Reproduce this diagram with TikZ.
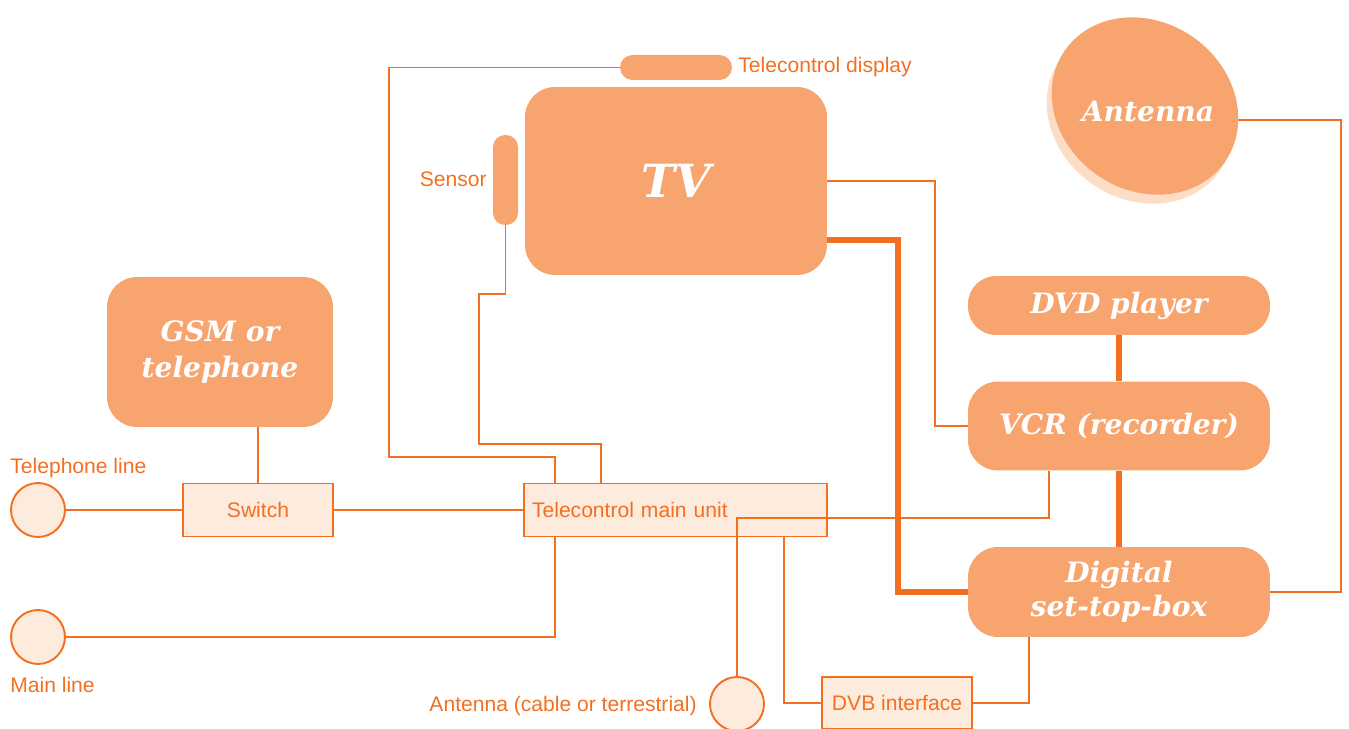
\documentclass[tikz,border=0pt]{standalone}
\usepackage{fontspec}
\setmainfont{Liberation Sans}
\newfontfamily\serifbi{DejaVu Serif}
\usepackage{tikz}
\usepackage{xcolor}
\usetikzlibrary{positioning, shapes}

\definecolor{wireorange}{RGB}{243,111,33}
\definecolor{boxsalmon}{RGB}{247,164,111}
\definecolor{boxpale}{RGB}{253,235,221}
\definecolor{antshadow}{RGB}{252,221,198}

\begin{document}
\begin{tikzpicture}[x=0.02cm, y=-0.02cm,
        wire/.style={draw=wireorange, line width=1.1pt},
        thickwire/.style={draw=wireorange, line width=3.4pt},
        device/.style={fill=boxsalmon, text=white, rounded corners=0.6cm, align=center, inner sep=0pt,
            font=\serifbi\bfseries\itshape\fontsize{16}{19.5}\selectfont},
        paleunit/.style={draw=wireorange, fill=boxpale, line width=1.1pt, text=wireorange, inner sep=0pt,
            minimum height=1.06cm, font=\fontsize{12}{14}\selectfont},
        plug/.style={circle, draw=wireorange, fill=boxpale, line width=1.1pt, minimum size=1.08cm, inner sep=0pt},
        tag/.style={text=wireorange, inner sep=0pt, font=\fontsize{12}{14}\selectfont}]
        \useasboundingbox (0,0) rectangle (1349,729);

        % TV with display and sensor
        \node[device, minimum width=6.04cm, minimum height=3.76cm, font=\serifbi\bfseries\itshape\fontsize{26}{30}\selectfont] (tv) at (676,181) {TV};
        \node[device, minimum width=2.24cm, minimum height=0.5cm, rounded corners=0.25cm] (disp) at (676,67.5) {};
        \node[tag, anchor=base west] (displabel) at (738,73) {Telecontrol display};
        \node[device, minimum width=0.5cm, minimum height=1.8cm, rounded corners=0.24cm] (sensor) at (505.5,180) {};
        \node[tag, anchor=base east] (sensorlabel) at (487,187) {Sensor};

        % telephone side
        \node[device, minimum width=4.52cm, minimum height=3cm, font=\serifbi\bfseries\itshape\fontsize{16}{20}\selectfont] (gsm) at (220,352) {GSM or\\telephone};
        \node[paleunit, minimum width=3cm] (switch) at (258,510) {Switch};
        \node[paleunit, text width=5.74cm, align=left, inner xsep=0.16cm] (tmu) at (675.5,510) {Telecontrol main unit};
        \node[paleunit, minimum width=3cm, minimum height=1.04cm] (dvb) at (897,703) {DVB interface};
        \node[plug] (telplug) at (38,510) {};
        \node[tag, anchor=base west] (tellabel) at (10,474) {Telephone line};
        \node[plug] (mainplug) at (38,637) {};
        \node[tag, anchor=base west] (mainlabel) at (10,692) {Main line};
        \node[plug] (antplug) at (737,704) {};
        \node[tag, anchor=base east] (antlabel) at (697,711) {Antenna (cable or terrestrial)};

        % recorder stack
        \node[device, minimum width=6.04cm, minimum height=1.18cm, rounded corners=0.56cm] (dvd) at (1119,305.5) {DVD player};
        \node[device, minimum width=6.04cm, minimum height=1.78cm] (vcr) at (1119,426) {VCR (recorder)};
        \node[device, minimum width=6.04cm, minimum height=1.8cm] (stb) at (1119,592) {Digital\\set-top-box};

        % wiring
        \draw[wire] (telplug) -- (switch);
        \draw[wire] (switch) -- (tmu);
        \draw[wire] (gsm.south -| switch) -- (switch);
        \draw[wire] (mainplug) -| ([xshift=0.64cm]tmu.south west);
        \draw[wire] (disp) -| (389,457) -| ([xshift=0.64cm]tmu.north west);
        \draw[wire] (sensor) |- (479,294) |- (602,444) -| ([xshift=1.56cm]tmu.north west);
        \draw[wire] ([xshift=-1.4cm]vcr.south) |- (737,518) -- (antplug);
        \draw[wire] ([xshift=5.22cm]tmu.south west) |- (dvb);
        \draw[wire] (dvb) -| ([xshift=-1.8cm]stb.south);
        \draw[wire] (tv.east) -| (935,426) -- (vcr);
        \draw[thickwire] ([yshift=-1.18cm]tv.east) -| (898,592) -- (stb);
        \draw[thickwire] (dvd) -- (vcr);
        \draw[thickwire] (vcr) -- (stb);

        % roof antenna
        \coordinate (antfeed) at (1200,120);
        \draw[wire] (stb) -| (1341,120) -- (antfeed);
        \fill[antshadow, rotate around={-35:(1140,115)}] (1140,115) ellipse [x radius=1.95cm, y radius=1.68cm];
        \fill[boxsalmon, rotate around={-35:(1145,106)}] (1145,106) ellipse [x radius=1.95cm, y radius=1.68cm];
        \node[text=white, font=\serifbi\bfseries\itshape\fontsize{16}{19}\selectfont] (ant) at (1148,111) {Antenna};
    \end{tikzpicture}
\end{document}
